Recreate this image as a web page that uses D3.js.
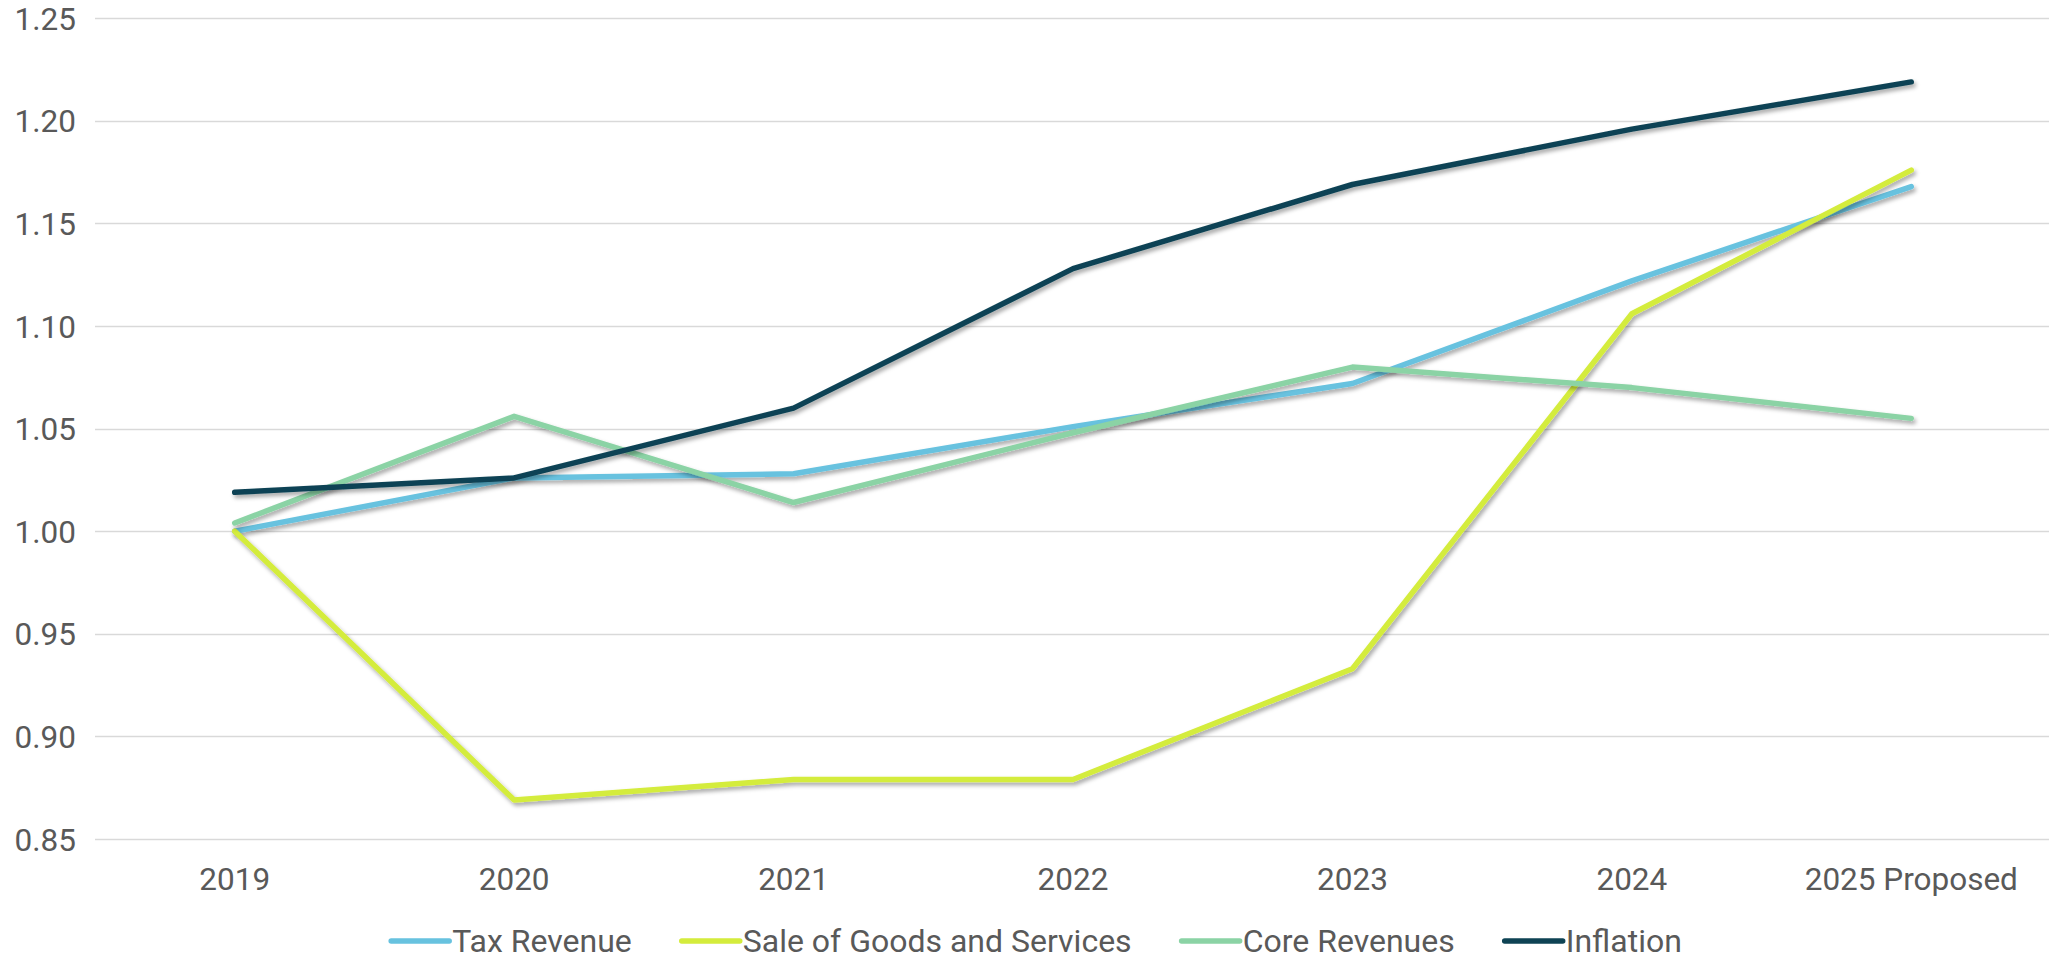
<!DOCTYPE html>
<html><head><meta charset="utf-8">
<script src="https://cdn.jsdelivr.net/npm/d3@7"></script>
<style>
html,body{margin:0;padding:0;background:#fff;}
text{font-family:Roboto, "Liberation Sans", sans-serif;fill:#595959;}
</style></head>
<body>
<svg id="chart" width="2049" height="962"></svg>
<script>
const categories = ["2019","2020","2021","2022","2023","2024","2025 Proposed"];
const taxRevenue = [1.000, 1.026, 1.028, 1.051, 1.072, 1.122, 1.168];
const saleGoods  = [1.000, 0.869, 0.879, 0.879, 0.933, 1.106, 1.176];
const coreRevenues = [1.004, 1.056, 1.014, 1.048, 1.080, 1.070, 1.055];
const inflation  = [1.019, 1.026, 1.060, 1.128, 1.169, 1.196, 1.219];
const yTicks = [0.85,0.90,0.95,1.00,1.05,1.10,1.15,1.20,1.25];
const seriesNames = ["Tax Revenue","Sale of Goods and Services","Core Revenues","Inflation"];
const seriesColors = ["#67C2DF","#D4EC3C","#8BD3A5","#0E4354"];
const seriesData = [taxRevenue, saleGoods, coreRevenues, inflation];

(function(){
const svg = d3.select("#chart");
const mLeft = 95, mRight = 2051, mTop = 18.3, mBottom = 839;
const fs = 31.5;

const defs = svg.append("defs");
const f = defs.append("filter").attr("id","shadow").attr("x","-5%").attr("y","-5%").attr("width","110%").attr("height","120%");
f.append("feDropShadow").attr("dx",2).attr("dy",3).attr("stdDeviation",2).attr("flood-color","#000").attr("flood-opacity",0.35);

const x = d3.scaleBand().domain(categories).range([mLeft,mRight]).padding(0);
const y = d3.scaleLinear().domain([0.85,1.25]).range([mBottom,mTop]);

svg.append("g").selectAll("line").data(yTicks).join("line")
  .attr("x1",mLeft).attr("x2",2049)
  .attr("y1",d=>Math.round(y(d))+0.5).attr("y2",d=>Math.round(y(d))+0.5)
  .attr("stroke","#D9D9D9").attr("stroke-width",1.3);

const yAxis = d3.axisLeft(y).tickValues(yTicks).tickFormat(d3.format(".2f")).tickSize(0).tickPadding(0);
const yg = svg.append("g").attr("transform","translate(76,0)").call(yAxis);
yg.select(".domain").remove();
yg.selectAll("text").attr("font-size",fs).attr("font-family","Roboto").attr("fill","#595959").attr("dy","0.35em");

const xAxis = d3.axisBottom(x).tickSize(0).tickPadding(0);
const xg = svg.append("g").attr("transform","translate(0,879)").call(xAxis);
xg.select(".domain").remove();
xg.selectAll("text").attr("font-size",fs).attr("font-family","Roboto").attr("fill","#595959").attr("dy","0.35em");

const line = d3.line().x((d,i)=>x(categories[i])+x.bandwidth()/2).y(d=>y(d));
svg.append("g").selectAll("path").data(seriesData).join("path")
  .attr("d",line).attr("fill","none")
  .attr("stroke",(d,i)=>seriesColors[i]).attr("stroke-width",5.5)
  .attr("stroke-linecap","round").attr("stroke-linejoin","round")
  .attr("filter","url(#shadow)");

const lg = svg.append("g");
const items = lg.selectAll("g").data(seriesNames).join("g");
items.append("line").attr("x1",0).attr("x2",58).attr("y1",0).attr("y2",0)
  .attr("stroke",(d,i)=>seriesColors[i]).attr("stroke-width",5.5).attr("stroke-linecap","round");
items.append("text").attr("x",61).attr("dy","0.35em").attr("font-size",32).text(d=>d);
let widths = [];
items.each(function(){ widths.push(this.getBBox().width); });
const gap = 50;
const total = d3.sum(widths) + gap*(widths.length-1);
let cx = (2049-total)/2 + 12;
items.attr("transform",(d,i)=>{ const t=`translate(${cx},941)`; cx += widths[i]+gap; return t; });
})();
</script>
</body></html>
